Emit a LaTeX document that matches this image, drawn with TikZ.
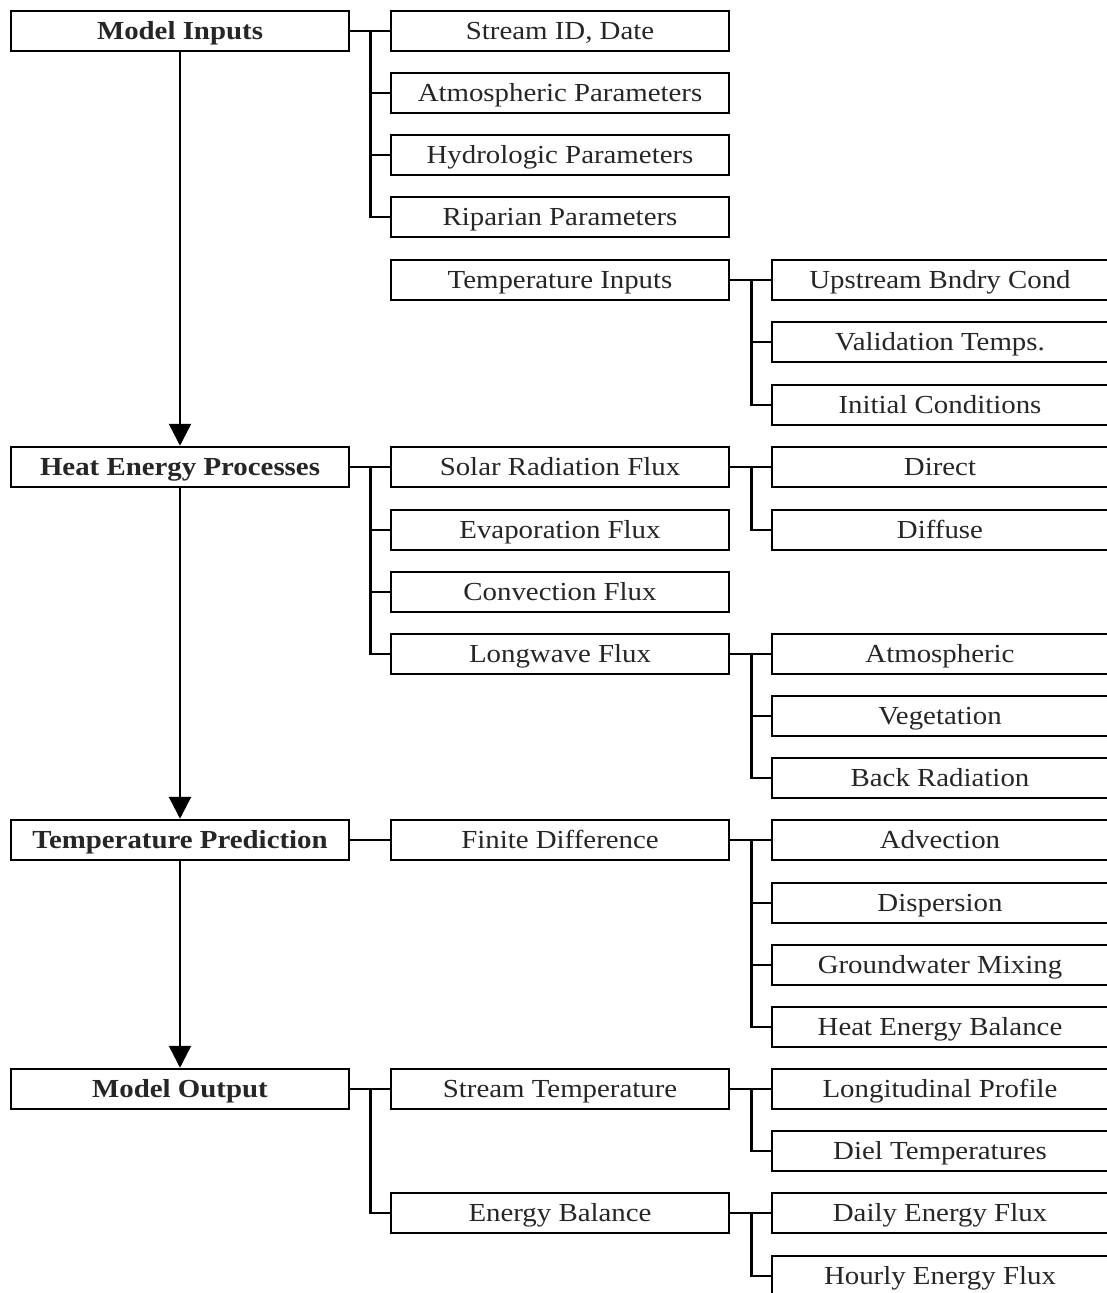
\documentclass[tikz,border=0pt]{standalone}
\usepackage{fontspec}
\setmainfont{Liberation Serif}
\newfontfamily\boxfont[FakeStretch=1.11]{Liberation Serif}
\usetikzlibrary{arrows.meta}
\begin{document}
\begin{tikzpicture}[x=1pt,y=-1pt,
  box/.style={draw=black,line width=2.5pt,fill=white,inner sep=0pt,minimum height=40pt,
    text height=17pt,text depth=0pt,
    font=\boxfont\fontsize{26}{30}\selectfont,text=black!85},
  mainbox/.style={box,minimum width=338pt,font=\boxfont\fontsize{26}{30}\selectfont\bfseries},
  subbox/.style={box,minimum width=338pt},
  leafbox/.style={box,minimum width=336pt},
  conn/.style={line width=2.5pt,draw=black},
  flow/.style={line width=2.5pt,draw=black,-{Triangle[width=22pt,length=22pt]}}]
\useasboundingbox[fill=white] (0,0) rectangle (1107,1293);
% column 1
\node[mainbox] (mi) at (180,31) {Model Inputs};
\node[mainbox] (hep) at (180,467) {Heat Energy Processes};
\node[mainbox] (tp) at (180,840) {Temperature Prediction};
\node[mainbox] (mo) at (180,1089) {Model Output};
% column 2
\node[subbox] (sid) at (560,31) {Stream ID, Date};
\node[subbox] (atp) at (560,93) {Atmospheric Parameters};
\node[subbox] (hyp) at (560,155) {Hydrologic Parameters};
\node[subbox] (rip) at (560,217) {Riparian Parameters};
\node[subbox] (tin) at (560,280) {Temperature Inputs};
\node[subbox] (sol) at (560,467) {Solar Radiation Flux};
\node[subbox] (eva) at (560,530) {Evaporation Flux};
\node[subbox] (con) at (560,592) {Convection Flux};
\node[subbox] (lwf) at (560,654) {Longwave Flux};
\node[subbox] (fdi) at (560,840) {Finite Difference};
\node[subbox] (stt) at (560,1089) {Stream Temperature};
\node[subbox] (ebl) at (560,1213) {Energy Balance};
% column 3
\node[leafbox] (ubc) at (940,280) {Upstream Bndry Cond};
\node[leafbox] (vtm) at (940,342) {Validation Temps.};
\node[leafbox] (inc) at (940,405) {Initial Conditions};
\node[leafbox] (dir) at (940,467) {Direct};
\node[leafbox] (dif) at (940,530) {Diffuse};
\node[leafbox] (atm) at (940,654) {Atmospheric};
\node[leafbox] (veg) at (940,716) {Vegetation};
\node[leafbox] (bkr) at (940,778) {Back Radiation};
\node[leafbox] (adv) at (940,840) {Advection};
\node[leafbox] (dsp) at (940,903) {Dispersion};
\node[leafbox] (gwm) at (940,965) {Groundwater Mixing};
\node[leafbox] (heb) at (940,1027) {Heat Energy Balance};
\node[leafbox] (lpr) at (940,1089) {Longitudinal Profile};
\node[leafbox] (dtm) at (940,1151) {Diel Temperatures};
\node[leafbox] (def) at (940,1213) {Daily Energy Flux};
\node[leafbox] (hef) at (940,1276) {Hourly Energy Flux};
% main flow
\draw[flow] (mi.south) -- (hep.north);
\draw[flow] (hep.south) -- (tp.north);
\draw[flow] (tp.south) -- (mo.north);
% Model Inputs tree
\draw[conn] (mi.east) -- ++(20,0) coordinate (j1);
\foreach \t in {sid,atp,hyp,rip} \draw[conn] (j1) |- (\t.west);
% Temperature Inputs tree
\draw[conn] (tin.east) -- ++(21,0) coordinate (j2);
\foreach \t in {ubc,vtm,inc} \draw[conn] (j2) |- (\t.west);
% Heat Energy Processes tree
\draw[conn] (hep.east) -- ++(20,0) coordinate (j3);
\foreach \t in {sol,eva,con,lwf} \draw[conn] (j3) |- (\t.west);
\draw[conn] (sol.east) -- ++(21,0) coordinate (j4);
\foreach \t in {dir,dif} \draw[conn] (j4) |- (\t.west);
\draw[conn] (lwf.east) -- ++(21,0) coordinate (j5);
\foreach \t in {atm,veg,bkr} \draw[conn] (j5) |- (\t.west);
% Temperature Prediction tree
\draw[conn] (tp.east) -- (fdi.west);
\draw[conn] (fdi.east) -- ++(21,0) coordinate (j6);
\foreach \t in {adv,dsp,gwm,heb} \draw[conn] (j6) |- (\t.west);
% Model Output tree
\draw[conn] (mo.east) -- ++(20,0) coordinate (j7);
\foreach \t in {stt,ebl} \draw[conn] (j7) |- (\t.west);
\draw[conn] (stt.east) -- ++(21,0) coordinate (j8);
\foreach \t in {lpr,dtm} \draw[conn] (j8) |- (\t.west);
\draw[conn] (ebl.east) -- ++(21,0) coordinate (j9);
\foreach \t in {def,hef} \draw[conn] (j9) |- (\t.west);
\end{tikzpicture}
\end{document}
